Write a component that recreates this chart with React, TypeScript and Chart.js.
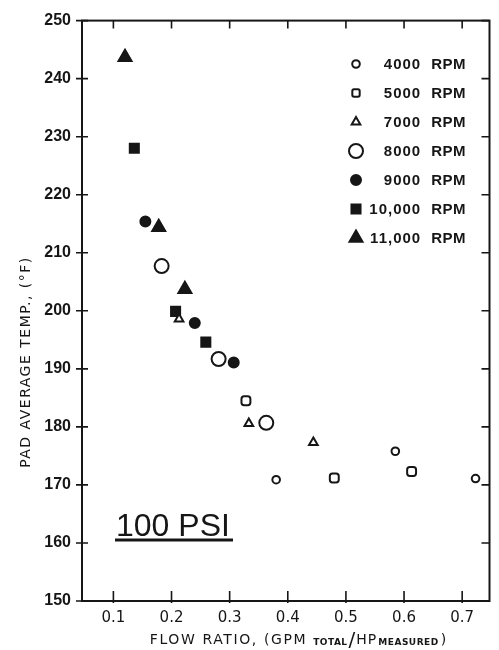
import React, { useEffect, useRef } from "react";
import { Chart, registerables } from "chart.js";

Chart.register(...registerables);

// ---- data ----
const xTickValues = [0.1, 0.2, 0.3, 0.4, 0.5, 0.6, 0.7];
const yTickValues = [150, 160, 170, 180, 190, 200, 210, 220, 230, 240, 250];

const rpm4000X = [0.38, 0.585, 0.723];
const rpm4000Y = [170.9, 175.8, 171.1];
const rpm5000X = [0.328, 0.48, 0.613];
const rpm5000Y = [184.5, 171.2, 172.3];
const rpm7000X = [0.213, 0.333, 0.444];
const rpm7000Y = [198.6, 180.6, 177.3];
const rpm8000X = [0.183, 0.281, 0.363];
const rpm8000Y = [207.7, 191.7, 180.7];
const rpm9000X = [0.155, 0.24, 0.307];
const rpm9000Y = [215.4, 197.9, 191.1];
const rpm10000X = [0.136, 0.207, 0.259];
const rpm10000Y = [228.0, 199.9, 194.6];
const rpm11000X = [0.12, 0.178, 0.223];
const rpm11000Y = [243.7, 214.4, 203.7];

const seriesLabels = [
  "4000 RPM",
  "5000 RPM",
  "7000 RPM",
  "8000 RPM",
  "9000 RPM",
  "10,000 RPM",
  "11,000 RPM",
];

const xTitleMain = "FLOW RATIO, (GPM";
const xTitleSub1 = "TOTAL";
const xTitleSlash = "/";
const xTitleHP = "HP";
const xTitleSub2 = "MEASURED";
const xTitleEnd = ")";
const yTitle = "PAD AVERAGE TEMP., (°F)";
const pressureLabel = "100 PSI";

const INK = "#161616";
const FONT = "'DejaVu Sans', sans-serif";
const LFONT = "'Liberation Sans', sans-serif";

type MarkerStyle = {
  pointStyle: "circle" | "rect" | "triangle" | "rectRounded";
  radius: number;
  filled: boolean;
};

const markerStyles: MarkerStyle[] = [
  { pointStyle: "circle", radius: 3.8, filled: false },
  { pointStyle: "rectRounded", radius: 5.2, filled: false },
  { pointStyle: "triangle", radius: 5, filled: false },
  { pointStyle: "circle", radius: 7, filled: false },
  { pointStyle: "circle", radius: 5, filled: true },
  { pointStyle: "rect", radius: 6.4, filled: true },
  { pointStyle: "triangle", radius: 7.5, filled: true },
];

const seriesX = [rpm4000X, rpm5000X, rpm7000X, rpm8000X, rpm9000X, rpm10000X, rpm11000X];
const seriesY = [rpm4000Y, rpm5000Y, rpm7000Y, rpm8000Y, rpm9000Y, rpm10000Y, rpm11000Y];

function drawMarker(ctx: CanvasRenderingContext2D, m: MarkerStyle, x: number, y: number) {
  const r = m.radius;
  ctx.beginPath();
  if (m.pointStyle === "circle") {
    ctx.arc(x, y, r, 0, Math.PI * 2);
  } else if (m.pointStyle === "rect" || m.pointStyle === "rectRounded") {
    const s = Math.SQRT1_2 * r;
    if (m.pointStyle === "rectRounded" && (ctx as any).roundRect) {
      (ctx as any).roundRect(x - s, y - s, 2 * s, 2 * s, r * 0.33);
    } else {
      ctx.rect(x - s, y - s, 2 * s, 2 * s);
    }
  } else {
    let rad = 0;
    ctx.moveTo(x + Math.sin(rad) * r, y - Math.cos(rad) * r);
    rad += (2 * Math.PI) / 3;
    ctx.lineTo(x + Math.sin(rad) * r, y - Math.cos(rad) * r);
    rad += (2 * Math.PI) / 3;
    ctx.lineTo(x + Math.sin(rad) * r, y - Math.cos(rad) * r);
    ctx.closePath();
  }
  ctx.fillStyle = m.filled ? INK : "#ffffff";
  ctx.fill();
  ctx.lineWidth = 2;
  ctx.strokeStyle = INK;
  ctx.stroke();
}

const decorPlugin = {
  id: "decor",
  afterDraw(chart: any) {
    const { ctx, chartArea } = chart;
    const { left, right, top, bottom } = chartArea;
    const xs = chart.scales.x;
    const ys = chart.scales.y;
    ctx.save();

    // frame
    ctx.strokeStyle = INK;
    ctx.lineWidth = 2;
    ctx.strokeRect(left, top, right - left, bottom - top);

    // tick marks (inside)
    ctx.lineWidth = 1.6;
    ctx.beginPath();
    xTickValues.forEach((v) => {
      const px = xs.getPixelForValue(v);
      ctx.moveTo(px, bottom + 2);
      ctx.lineTo(px, bottom - 10);
      ctx.moveTo(px, top);
      ctx.lineTo(px, top + 8);
    });
    yTickValues.forEach((v) => {
      const py = ys.getPixelForValue(v);
      ctx.moveTo(left - 6, py);
      ctx.lineTo(left + 6, py);
      ctx.moveTo(right, py);
      ctx.lineTo(right - 8, py);
    });
    ctx.stroke();

    // legend
    const legendMarkerX = 356;
    const legendTextRight = 466;
    const legendTop = 64;
    const legendStep = 29;
    ctx.textBaseline = "middle";
    ctx.textAlign = "right";
    seriesLabels.forEach((label, i) => {
      const y = legendTop + i * legendStep;
      drawMarker(ctx, markerStyles[i], legendMarkerX, y);
      ctx.fillStyle = INK;
      const parts = label.split(" ");
      ctx.font = `bold 15px ${LFONT}`;
      (ctx as any).letterSpacing = "0.5px";
      ctx.fillText(parts[1], legendTextRight, y + 1);
      const rpmW = ctx.measureText(parts[1]).width;
      (ctx as any).letterSpacing = "1px";
      ctx.fillText(parts[0], legendTextRight - rpmW - 10, y + 1);
    });

    // y title
    ctx.save();
    ctx.translate(26, 362);
    ctx.rotate(-Math.PI / 2);
    ctx.font = `14px ${FONT}`;
    (ctx as any).letterSpacing = "1.5px";
    ctx.textAlign = "center";
    ctx.textBaseline = "middle";
    ctx.fillStyle = INK;
    ctx.fillText(yTitle, 0, 0);
    ctx.restore();

    // x title with subscripts
    const baseY = 644;
    const pieces = [
      { t: xTitleMain, f: `14px ${FONT}`, dy: 0, ls: "1.6px", gap: 6 },
      { t: xTitleSub1, f: `bold 9px ${FONT}`, dy: 1, ls: "0.5px", gap: 1 },
      { t: xTitleSlash, f: `20px ${FONT}`, dy: 2, ls: "0px", gap: 1 },
      { t: xTitleHP, f: `14px ${FONT}`, dy: 0, ls: "1px", gap: 1 },
      { t: xTitleSub2, f: `bold 9px ${FONT}`, dy: 1, ls: "0.5px", gap: 2 },
      { t: xTitleEnd, f: `14px ${FONT}`, dy: 0, ls: "0px", gap: 0 },
    ];
    ctx.textAlign = "left";
    ctx.textBaseline = "alphabetic";
    let total = 0;
    const widths: number[] = [];
    pieces.forEach((p) => {
      ctx.font = p.f;
      (ctx as any).letterSpacing = p.ls;
      const w = ctx.measureText(p.t).width;
      widths.push(w);
      total += w + p.gap;
    });
    let cx = 298 - total / 2;
    pieces.forEach((p, i) => {
      ctx.font = p.f;
      (ctx as any).letterSpacing = p.ls;
      ctx.fillText(p.t, cx, baseY + p.dy);
      cx += widths[i] + p.gap;
    });

    // 100 PSI label
    (ctx as any).letterSpacing = "0px";
    ctx.font = `32px ${LFONT}`;
    ctx.textAlign = "left";
    ctx.textBaseline = "alphabetic";
    ctx.fillText(pressureLabel, 116, 536);
    ctx.lineWidth = 3;
    ctx.beginPath();
    ctx.moveTo(115, 540);
    ctx.lineTo(233, 540);
    ctx.stroke();

    ctx.restore();
  },
};

export default function App() {
  const canvasRef = useRef<HTMLCanvasElement | null>(null);

  useEffect(() => {
    const canvas = canvasRef.current;
    if (!canvas) return;

    const datasets = seriesLabels.map((label, i) => {
      const m = markerStyles[i];
      return {
        label,
        data: seriesX[i].map((x, j) => ({ x, y: seriesY[i][j] })),
        showLine: false,
        pointStyle: m.pointStyle,
        pointRadius: m.radius,
        pointHoverRadius: m.radius,
        pointBorderWidth: 2,
        pointBorderColor: INK,
        pointBackgroundColor: m.filled ? INK : "#ffffff",
      };
    });

    const chart = new Chart(canvas, {
      type: "scatter",
      data: { datasets },
      options: {
        responsive: false,
        animation: false,
        layout: { padding: { top: 14, right: 2, left: 0, bottom: 0 } },
        plugins: {
          legend: { display: false },
          tooltip: { enabled: false },
          title: { display: false },
        },
        scales: {
          x: {
            type: "linear",
            min: 0.046,
            max: 0.747,
            grid: { display: false, drawTicks: false },
            border: { display: false },
            afterBuildTicks: (scale: any) => {
              scale.ticks = xTickValues.map((v) => ({ value: v }));
            },
            afterFit: (scale: any) => {
              scale.height = 49;
            },
            ticks: {
              autoSkip: false,
              maxRotation: 0,
              padding: 8,
              color: INK,
              font: { family: "'DejaVu Sans', sans-serif", size: 15 },
              callback: (v: any) => Number(v).toFixed(1),
            },
          },
          y: {
            type: "linear",
            min: 150,
            max: 250,
            grid: { display: false, drawTicks: false },
            border: { display: false },
            afterBuildTicks: (scale: any) => {
              scale.ticks = yTickValues.map((v) => ({ value: v }));
            },
            afterFit: (scale: any) => {
              scale.width = 82;
            },
            ticks: {
              autoSkip: false,
              padding: 11,
              color: INK,
              font: { family: "'Liberation Sans', sans-serif", size: 16, weight: "bold" },
              callback: (v: any) => String(v),
            },
          },
        },
      },
      plugins: [decorPlugin],
    } as any);

    return () => chart.destroy();
  }, []);

  return (
    <div style={{ position: "fixed", left: 0, top: 0, width: 499, height: 650, background: "#ffffff" }}>
      <canvas ref={canvasRef} width={499} height={650} style={{ display: "block", width: 499, height: 650 }} />
    </div>
  );
}
